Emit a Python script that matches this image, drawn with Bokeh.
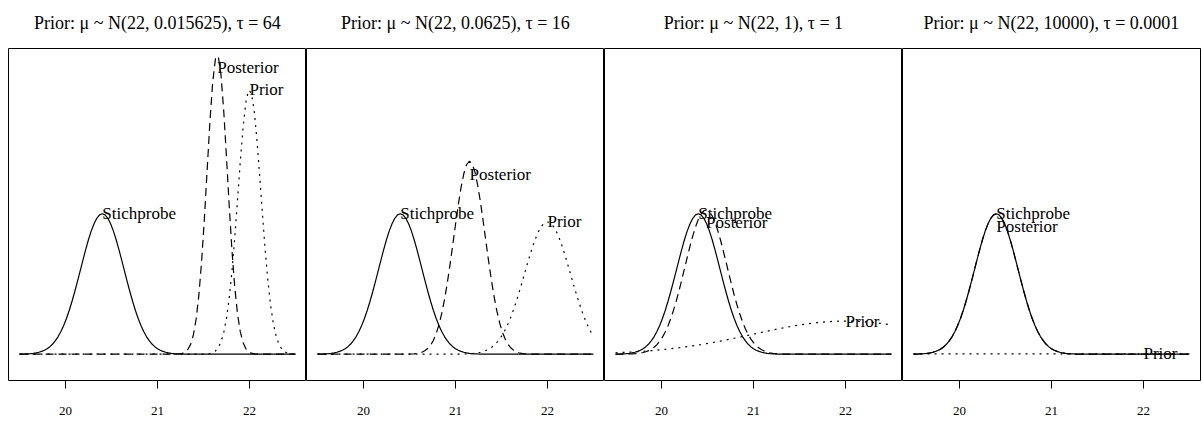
import numpy as np
from bokeh.plotting import figure
from bokeh.layouts import row
from bokeh.models import Range1d, LinearAxis, FixedTicker, ColumnDataSource
from bokeh.core.properties import value
from bokeh.embed import file_html
from bokeh.resources import INLINE

# ---- data ----
prior_mean = 22.0
prior_tau = [64.0, 16.0, 1.0, 0.0001]
prior_var_text = ["0.015625", "0.0625", "1", "10000"]
prior_tau_text = ["64", "16", "1", "0.0001"]
sample_mean = 20.4
sample_tau = 18.0
x_from, x_to, n_points = 19.5, 22.5, 101
tick_values = [20, 21, 22]
tick_labels = ["20", "21", "22"]
curve_names = ["Stichprobe", "Posterior", "Prior"]

FONT = "'Liberation Serif', serif"
X_LO, X_HI = 19.38, 22.62
panel_widths = [306, 298, 298, 300]
left_borders = [8, 0, 0, 0]
right_borders = [0, 0, 0, 2]
FIG_H = 421
BORDER_TOP, BORDER_BOTTOM = 48, 41


def dnorm(x, m, tau):
    return np.sqrt(tau / (2 * np.pi)) * np.exp(-0.5 * tau * (x - m) ** 2)


xs = np.linspace(x_from, x_to, n_points)
panels = []
for k in range(4):
    t0 = prior_tau[k]
    t_post = t0 + sample_tau
    m_post = (t0 * prior_mean + sample_tau * sample_mean) / t_post

    title = f"Prior: \u03bc ~ N({prior_mean:g}, {prior_var_text[k]}), \u03c4 = {prior_tau_text[k]}"
    p = figure(width=panel_widths[k], height=FIG_H,
               x_range=Range1d(X_LO, X_HI), y_range=Range1d(-0.317, 3.685),
               output_backend="svg", toolbar_location=None,
               x_axis_location=None, y_axis_location=None,
               min_border_left=left_borders[k], min_border_right=right_borders[k],
               min_border_top=BORDER_TOP, min_border_bottom=BORDER_BOTTOM)
    p.grid.visible = False
    p.background_fill_color = "white"
    p.border_fill_color = "white"
    p.outline_line_color = "black"
    p.outline_line_width = 1
    p.outline_line_alpha = 1

    # panel title, drawn as the label of an (otherwise empty) axis above the frame
    top = LinearAxis(ticker=FixedTicker(ticks=[]), axis_label=title)
    top.axis_line_color = None
    top.major_tick_out = 0
    top.major_tick_in = 0
    top.minor_tick_line_color = None
    top.major_label_standoff = 0
    top.axis_label_standoff = 16
    top.axis_label_text_font = FONT
    top.axis_label_text_font_size = "18px"
    top.axis_label_text_font_style = "normal"
    top.axis_label_text_color = "black"
    p.add_layout(top, "above")

    ax = LinearAxis(ticker=FixedTicker(ticks=tick_values),
                    major_label_overrides={v: s for v, s in zip(tick_values, tick_labels)})
    ax.axis_line_color = None
    ax.major_tick_in = 0
    ax.major_tick_out = 8
    ax.major_tick_line_color = "black"
    ax.minor_tick_line_color = None
    ax.major_label_standoff = 18
    ax.major_label_text_font = FONT
    ax.major_label_text_font_size = "13px"
    ax.major_label_text_color = "black"
    p.add_layout(ax, "below")

    y_sample = dnorm(xs, sample_mean, sample_tau)
    y_post = dnorm(xs, m_post, t_post)
    y_prior = dnorm(xs, prior_mean, t0)

    p.line(xs, y_sample, line_color="black", line_width=1.2)
    p.line(xs, y_post, line_color="black", line_width=1.2, line_dash="8 5")
    p.line(xs, y_prior, line_color="black", line_width=1.2, line_dash="2 5")

    lab_src = ColumnDataSource(dict(
        x=[sample_mean, m_post, prior_mean],
        y=[dnorm(sample_mean, sample_mean, sample_tau),
           dnorm(m_post, m_post, t_post),
           dnorm(prior_mean, prior_mean, t0)],
        t=curve_names,
        dy=[0, 13, 0],
    ))
    p.text(x="x", y="y", text="t", y_offset="dy", source=lab_src,
           text_font=value(FONT), text_font_size="17px",
           text_align="left", text_baseline="alphabetic", text_color="black")
    panels.append(p)

layout = row(*panels, spacing=0)
open("out.html", "w").write(file_html(layout, INLINE))
